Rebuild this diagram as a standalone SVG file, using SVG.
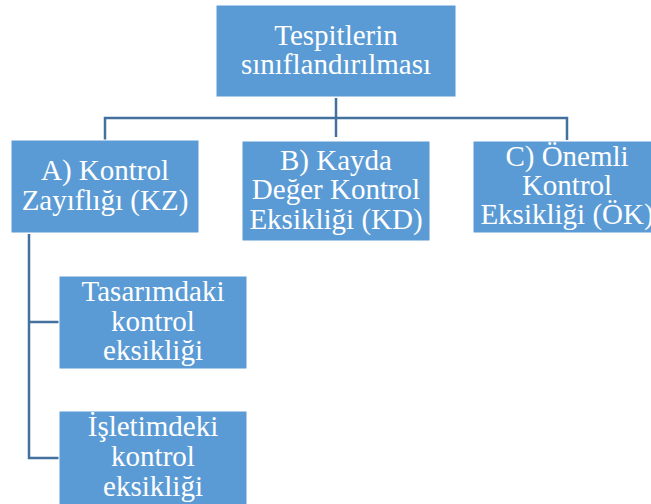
<svg xmlns="http://www.w3.org/2000/svg" width="651" height="504" viewBox="0 0 651 504">
<style>
.box{fill:#5B9BD5;stroke:#ffffff;stroke-width:1}
.t{font-family:"Liberation Serif","Times New Roman",serif;font-size:29px;fill:#ffffff;text-anchor:middle}
.c{fill:none;stroke:#41719C;stroke-width:2.5}
</style>
<rect width="651" height="504" fill="#ffffff"/>
<g id="connectors">
<path class="c" d="M336 98V137"/>
<path class="c" d="M105 140V118H567V140"/>
<path class="c" d="M29 234V458H59M29 322H59"/>
</g>
<g id="root">
<rect class="box" x="216" y="5" width="240" height="92"/>
<text class="t" x="336" y="45">Tespitlerin</text>
<text class="t" x="336" y="74">sınıflandırılması</text>
</g>
<g id="kz">
<rect class="box" x="11" y="140" width="188" height="93"/>
<text class="t" x="105" y="180">A) Kontrol</text>
<text class="t" x="105" y="210">Zayıflığı (KZ)</text>
</g>
<g id="kd">
<rect class="box" x="242" y="141" width="188" height="100"/>
<text class="t" x="336" y="170">B) Kayda</text>
<text class="t" x="336" y="199">Değer Kontrol</text>
<text class="t" x="336" y="229">Eksikliği (KD)</text>
</g>
<g id="ok">
<rect class="box" x="473" y="141" width="188" height="92"/>
<text class="t" x="567" y="166">C) Önemli</text>
<text class="t" x="567" y="195">Kontrol</text>
<text class="t" x="567" y="224">Eksikliği (ÖK)</text>
</g>
<g id="tasarim">
<rect class="box" x="59" y="276" width="188" height="93"/>
<text class="t" x="153" y="301">Tasarımdaki</text>
<text class="t" x="153" y="331">kontrol</text>
<text class="t" x="153" y="360">eksikliği</text>
</g>
<g id="isletim">
<rect class="box" x="59" y="411" width="188" height="98"/>
<text class="t" x="153" y="436">İşletimdeki</text>
<text class="t" x="153" y="466">kontrol</text>
<text class="t" x="153" y="496">eksikliği</text>
</g>
</svg>
